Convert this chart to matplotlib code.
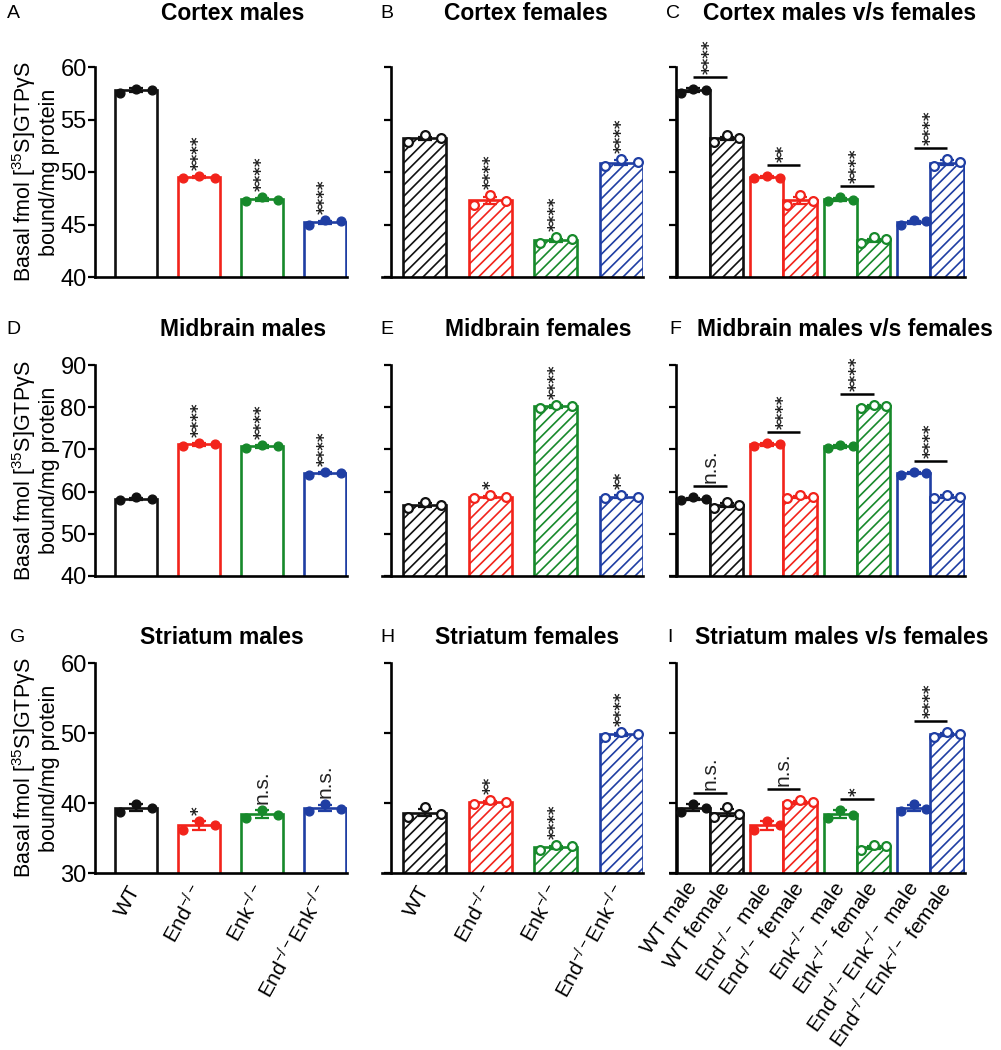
import matplotlib
matplotlib.use("Agg")
import matplotlib.pyplot as plt
import numpy as np

plt.rcParams['font.family'] = ['Liberation Sans', 'DejaVu Sans']
plt.rcParams['mathtext.fontset'] = 'custom'
plt.rcParams['mathtext.rm'] = 'Liberation Sans'
plt.rcParams['mathtext.it'] = 'Liberation Sans:italic'
plt.rcParams['mathtext.bf'] = 'Liberation Sans:bold'
plt.rcParams['mathtext.default'] = 'regular'
plt.rcParams['hatch.linewidth'] = 1.2

# ---------------- data ----------------
genotypes = ['WT', r'End$^{-/-}$', r'Enk$^{-/-}$', r'End$^{-/-}$Enk$^{-/-}$']
pair_labels = ['WT male', 'WT female',
               r'End$^{-/-}$ male', r'End$^{-/-}$ female',
               r'Enk$^{-/-}$ male', r'Enk$^{-/-}$ female',
               r'End$^{-/-}$Enk$^{-/-}$ male', r'End$^{-/-}$Enk$^{-/-}$ female']
colors = ['#111111', '#f2231b', '#17892b', '#1f3ea3']

cortex_male = [57.8, 49.5, 47.4, 45.2]
cortex_male_sem = [0.2, 0.1, 0.15, 0.15]
cortex_male_pts = [[57.5, 57.9, 57.8], [49.4, 49.6, 49.4], [47.2, 47.6, 47.3], [45.0, 45.4, 45.3]]
cortex_female = [53.2, 47.3, 43.5, 50.9]
cortex_female_sem = [0.15, 0.3, 0.15, 0.2]
cortex_female_pts = [[52.9, 53.5, 53.2], [46.9, 47.8, 47.2], [43.2, 43.8, 43.6], [50.6, 51.2, 51.0]]

midbrain_male = [58.3, 71.2, 70.7, 64.4]
midbrain_male_sem = [0.3, 0.3, 0.3, 0.3]
midbrain_male_pts = [[58.0, 58.7, 58.3], [70.9, 71.6, 71.2], [70.3, 71.1, 70.7], [64.0, 64.7, 64.5]]
midbrain_female = [56.8, 58.7, 80.2, 58.8]
midbrain_female_sem = [0.4, 0.3, 0.3, 0.3]
midbrain_female_pts = [[56.1, 57.6, 56.8], [58.4, 59.1, 58.7], [79.9, 80.6, 80.2], [58.4, 59.2, 58.8]]

striatum_male = [39.3, 36.8, 38.4, 39.3]
striatum_male_sem = [0.5, 0.6, 0.6, 0.4]
striatum_male_pts = [[38.7, 39.9, 39.3], [36.2, 37.4, 36.8], [37.9, 39.0, 38.3], [38.9, 39.8, 39.2]]
striatum_female = [38.6, 40.1, 33.7, 49.8]
striatum_female_sem = [0.5, 0.2, 0.2, 0.2]
striatum_female_pts = [[38.0, 39.4, 38.4], [39.8, 40.4, 40.2], [33.3, 34.0, 33.8], [49.4, 50.1, 49.9]]

sig_cortex_male = ['', '****', '****', '****']
sig_cortex_female = ['', '****', '****', '****']
sig_cortex_mf = ['****', '**', '****', '****']
sig_midbrain_male = ['', '****', '****', '****']
sig_midbrain_female = ['', '*', '****', '**']
sig_midbrain_mf = ['n.s.', '****', '****', '****']
sig_striatum_male = ['', '*', 'n.s.', 'n.s.']
sig_striatum_female = ['', '**', '****', '****']
sig_striatum_mf = ['n.s.', 'n.s.', '*', '****']

# ---------------- layout ----------------
W, H = 1001, 1050
fig = plt.figure(figsize=(W / 100, H / 100), dpi=100)

def rect(l, t, r, b):
    return [l / W, 1 - b / H, (r - l) / W, (b - t) / H]

rows = [(67, 277), (365, 576), (663, 873)]
cols = [(95, 347), (382, 643), (670, 965)]
ylims = [(40, 60), (40, 90), (30, 60)]
yticks = [[40, 45, 50, 55, 60], [40, 50, 60, 70, 80, 90], [30, 40, 50, 60]]
xlims = [(-0.65, 3.35), (-0.65, 3.33), (-0.544, 3.47)]
spine_x = [None, -0.51, -0.463]

SPINE_LW = 1.9
BAR_LW = 1.9

def setup_axes(ax, r, c):
    ax.set_xlim(*xlims[c])
    ax.set_ylim(*ylims[r])
    ax.set_yticks(yticks[r])
    for s in ['top', 'right']:
        ax.spines[s].set_visible(False)
    for s in ['left', 'bottom']:
        ax.spines[s].set_linewidth(SPINE_LW)
    if spine_x[c] is not None:
        ax.spines['left'].set_position(('data', spine_x[c]))
    ax.tick_params(axis='y', direction='out', length=5, width=1.6, labelsize=17, pad=1)
    ax.tick_params(axis='x', length=0)
    if c != 0:
        ax.set_yticklabels([])
    ax.patch.set_alpha(0)

def px2data(ax, px):
    bb = ax.get_window_extent()
    y0, y1 = ax.get_ylim()
    return px * (y1 - y0) / bb.height

def sig_text(ax, x, y, s, dy_px=4):
    if not s:
        return
    if s == 'n.s.':
        ax.annotate(s, xy=(x, y), xytext=(0, dy_px * 0.72), textcoords='offset points',
                    rotation=90, ha='center', va='bottom', fontsize=15, color='#222222')
    else:
        ax.annotate(s, xy=(x, y), xytext=(0, dy_px * 0.72), textcoords='offset points',
                    rotation=90, ha='center', va='bottom', fontsize=12,
                    family='DejaVu Sans', fontweight='bold', color='#222222')

def draw_bars(ax, xs, means, sems, pts, female, width):
    for i, (x, m, e, p) in enumerate(zip(xs, means, sems, pts)):
        col = colors[i]
        if female:
            ax.bar(x, m, width=width, facecolor='white', edgecolor=col, linewidth=BAR_LW,
                   hatch='///', zorder=2)
        else:
            ax.bar(x, m, width=width, facecolor='white', edgecolor=col, linewidth=BAR_LW, zorder=2)
        ax.errorbar(x, m, yerr=e, fmt='none', ecolor=col, elinewidth=1.6, capsize=5,
                    capthick=1.6, zorder=3)
        offs = np.array([-0.38, 0.0, 0.38]) * width
        if female:
            ax.scatter(x + offs, p, s=40, facecolor='white', edgecolor=col, linewidths=1.6, zorder=4)
        else:
            ax.scatter(x + offs, p, s=40, facecolor=col, edgecolor=col, linewidths=1.0, zorder=4)

datasets = [
    (cortex_male, cortex_male_sem, cortex_male_pts, cortex_female, cortex_female_sem, cortex_female_pts,
     sig_cortex_male, sig_cortex_female, sig_cortex_mf),
    (midbrain_male, midbrain_male_sem, midbrain_male_pts, midbrain_female, midbrain_female_sem, midbrain_female_pts,
     sig_midbrain_male, sig_midbrain_female, sig_midbrain_mf),
    (striatum_male, striatum_male_sem, striatum_male_pts, striatum_female, striatum_female_sem, striatum_female_pts,
     sig_striatum_male, sig_striatum_female, sig_striatum_mf),
]

xpos = np.arange(4)
ylabel = 'Basal fmol [$^{35}$S]GTPγS\nbound/mg protein'

for r, (t, b) in enumerate(rows):
    mm, ms, mp, fm, fs, fp, sm, sf, smf = datasets[r]
    # male panel
    ax = fig.add_axes(rect(cols[0][0], t, cols[0][1], b))
    setup_axes(ax, r, 0)
    draw_bars(ax, xpos, mm, ms, mp, False, 0.67)
    for i in range(4):
        top = max(max(mp[i]), mm[i] + ms[i])
        sig_text(ax, xpos[i], top, sm[i], dy_px=6)
    ax.set_ylabel(ylabel, fontsize=15.5, linespacing=1.05)
    ax.yaxis.set_label_coords(-0.14, 0.5)
    if r == 2:
        ax.set_xticks(xpos)
        ax.set_xticklabels(genotypes, rotation=61, ha='right', va='center',
                           rotation_mode='anchor', fontsize=15)
        ax.tick_params(axis='x', pad=10)
    else:
        ax.set_xticks([])
    # female panel
    ax = fig.add_axes(rect(cols[1][0], t, cols[1][1], b))
    setup_axes(ax, r, 1)
    draw_bars(ax, xpos, fm, fs, fp, True, 0.65)
    for i in range(4):
        top = max(max(fp[i]), fm[i] + fs[i])
        sig_text(ax, xpos[i], top, sf[i], dy_px=6)
    if r == 2:
        ax.set_xticks(xpos)
        ax.set_xticklabels(genotypes, rotation=61, ha='right', va='center',
                           rotation_mode='anchor', fontsize=15)
        ax.tick_params(axis='x', pad=10)
    else:
        ax.set_xticks([])
    # male vs female panel
    ax = fig.add_axes(rect(cols[2][0], t, cols[2][1], b))
    setup_axes(ax, r, 2)
    w = 0.45
    draw_bars(ax, xpos - w / 2, mm, ms, mp, False, w)
    draw_bars(ax, xpos + w / 2, fm, fs, fp, True, w)
    for i in range(4):
        top = max(max(mp[i]), max(fp[i]), mm[i] + ms[i], fm[i] + fs[i])
        yl = top + px2data(ax, 11)
        ax.plot([xpos[i] - w / 2, xpos[i] + w / 2], [yl, yl], color='black', lw=1.8,
                solid_capstyle='butt', zorder=5, clip_on=False)
        sig_text(ax, xpos[i], yl, smf[i], dy_px=3)
    if r == 2:
        xs8 = np.ravel(np.column_stack([xpos - w / 2, xpos + w / 2]))
        ax.set_xticks(xs8)
        ax.set_xticklabels(pair_labels, rotation=55, ha='right', va='center',
                           rotation_mode='anchor', fontsize=15)
        ax.tick_params(axis='x', pad=8)
    else:
        ax.set_xticks([])

# ---------------- titles & panel letters ----------------
titles = [
    [('A', 13, 'Cortex males', 233), ('B', 387, 'Cortex females', 526), ('C', 673, 'Cortex males v/s females', 840)],
    [('D', 13, 'Midbrain males', 243), ('E', 387, 'Midbrain females', 538), ('F', 675, 'Midbrain males v/s females', 845)],
    [('G', 18, 'Striatum males', 222), ('H', 387, 'Striatum females', 527), ('I', 670, 'Striatum males v/s females', 842)],
]
title_y = [14, 330, 638]
for r in range(3):
    for letter, lx, title, tx in titles[r]:
        fig.text(lx / W, 1 - title_y[r] / H, letter, fontsize=14, ha='center', va='center')
        fig.text(tx / W, 1 - title_y[r] / H, title, fontsize=16.5, fontweight='bold',
                 ha='center', va='center')

fig.savefig('out.png', dpi=100, facecolor='white')
